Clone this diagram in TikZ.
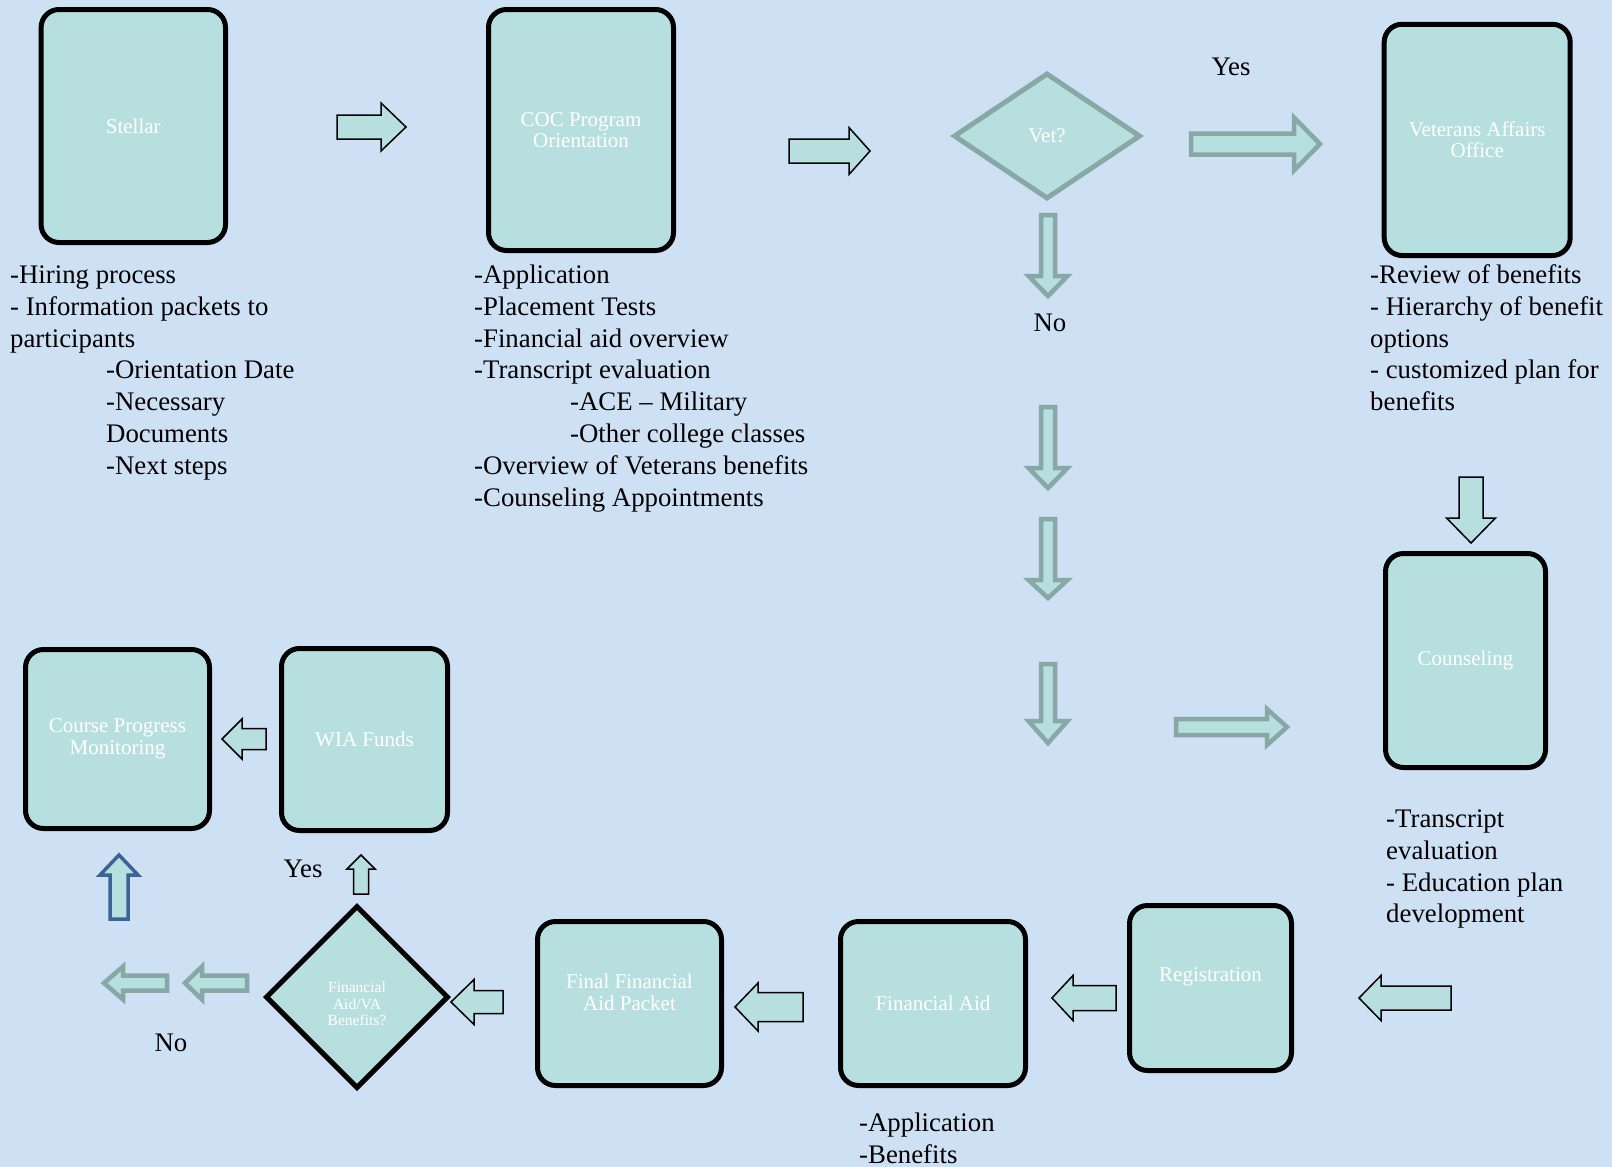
\documentclass[tikz,border=0pt]{standalone}
\usepackage{fontspec}
\setmainfont{Liberation Serif}
\usetikzlibrary{shapes.geometric}
\definecolor{bgc}{HTML}{CEE0F4}
\definecolor{boxfill}{HTML}{B8DFE0}
\definecolor{grayteal}{HTML}{88A8A5}
\definecolor{arrblue}{HTML}{3B6396}
\newcommand{\bodyfont}{\fontsize{26.8}{31.8}\selectfont}
\newcommand{\boxfont}{\fontsize{21}{21.5}\selectfont}
\newcommand{\smallboxfont}{\fontsize{15.5}{16.5}\selectfont}
\newcommand{\ind}{\hspace*{96pt}}
% block arrow: style, tail x, tail y, angle, length, head length, shaft width, head width
\newcommand{\barr}[8]{%
  \draw[#1, shift={(#2,#3)}, rotate=#4] (0,-#7/2) -- (#5-#6,-#7/2) -- (#5-#6,-#8/2) -- (#5,0)
    -- (#5-#6,#8/2) -- (#5-#6,#7/2) -- (0,#7/2) -- cycle;}
\tikzset{
  procbox/.style={draw=black, line width=5pt, fill=boxfill, rounded corners=18pt,
    inner sep=0pt, text=white, font=\boxfont, align=center},
  boxtxt/.style={inner sep=0pt, text=white, font=\boxfont, align=center},
  vetdia/.style={diamond, draw=grayteal, line width=5pt, fill=boxfill, inner sep=0pt,
    text=white, font=\boxfont, align=center},
  fadia/.style={diamond, draw=black, line width=5pt, fill=boxfill, inner sep=0pt,
    text=white, font=\smallboxfont, align=center},
  notes/.style={anchor=north west, inner sep=0pt, align=left, font=\bodyfont, text=black},
  lbl/.style={anchor=base, inner sep=0pt, font=\bodyfont, text=black},
  blkarr/.style={draw=black, line width=1.5pt, fill=boxfill, line join=miter},
  bluearr/.style={draw=arrblue, line width=3.5pt, fill=boxfill, line join=miter},
  grayarr/.style={draw=grayteal, line width=4.5pt, fill=boxfill, line join=miter}
}
\begin{document}
\begin{tikzpicture}[x=1pt, y=-1pt]
\fill[bgc] (0,0) rectangle (1612,1167);
\useasboundingbox (0,0) rectangle (1612,1167);

% process boxes
\node[procbox, minimum width=184.4pt, minimum height=233pt] (stellar) at (133.3,126) {Stellar};
\node[procbox, minimum width=185pt, minimum height=241pt] (coc) at (581,130) {COC Program\\Orientation};
\node[procbox, minimum width=186pt, minimum height=231.3pt] (va) at (1477.2,139.9) {Veterans Affairs\\Office};
\node[procbox, minimum width=160pt, minimum height=214pt] (couns) at (1465.5,660.5) {Counseling};
\node[procbox, minimum width=162pt, minimum height=165pt] (reg) at (1210.5,988) {};
\node[boxtxt] (regtxt) at ([yshift=11pt]reg.center) {Registration};
\node[procbox, minimum width=185pt, minimum height=164pt] (finaid) at (933,1003.5) {Financial Aid};
\node[procbox, minimum width=184pt, minimum height=164pt] (final) at (629.5,1003.5) {};
\node[boxtxt] (finaltxt) at ([yshift=11pt]final.center) {Final Financial\\Aid Packet};
\node[procbox, minimum width=184pt, minimum height=179pt] (cpm) at (117.5,739) {Course Progress\\Monitoring};
\node[procbox, minimum width=166pt, minimum height=182pt] (wia) at (364.5,739.5) {WIA Funds};

% decisions
\node[vetdia, minimum width=187pt, minimum height=126pt] (vet) at (1047,136) {Vet?};
\node[fadia, minimum width=183pt, minimum height=183pt] (fava) at (357,997) {};
\node[boxtxt, font=\smallboxfont] (favatxt) at ([yshift=-7pt]fava.center) {Financial\\Aid/VA\\Benefits?};

% notes
\node[notes] (stnotes) at (10,261) {\strut-Hiring process\\- Information packets to\\participants\\
  \ind-Orientation Date\\\ind-Necessary\\\ind Documents\\\ind-Next steps};
\node[notes] (cocnotes) at (474,261) {\strut-Application\\-Placement Tests\\-Financial aid overview\\
  -Transcript evaluation\\\ind-ACE – Military\\\ind-Other college classes\\
  -Overview of Veterans benefits\\-Counseling Appointments};
\node[notes] (vanotes) at (1370,261) {\strut-Review of benefits\\- Hierarchy of benefit\\options\\
  - customized plan for\\benefits};
\node[notes] (counsnotes) at (1386,805) {\strut-Transcript\\evaluation\\- Education plan\\development};
\node[notes] (fanotes) at (859,1109) {\strut-Application\\-Benefits};

% labels
\node[lbl] (yes1) at (1231,75) {Yes};
\node[lbl] (no1) at (1050,331) {No};
\node[lbl] (yes2) at (303,877) {Yes};
\node[lbl] (no2) at (171,1051) {No};

% block arrows (black outline)
\barr{blkarr}{337}{127}{0}{69}{25}{24}{48}
\barr{blkarr}{789}{151}{0}{81}{21}{24}{47}
\barr{blkarr}{1471}{477}{-90}{66}{25}{24}{49}
\barr{blkarr}{1451}{998}{180}{92}{22}{24}{45}
\barr{blkarr}{1116}{998}{180}{64}{21}{25}{45}
\barr{blkarr}{803}{1007}{180}{68}{23}{29}{48}
\barr{blkarr}{503}{1002}{180}{52}{23}{23}{45}
\barr{blkarr}{266}{739}{180}{44}{20}{21}{40}
\barr{blkarr}{361}{894}{90}{39}{14}{15}{28}
% blue outline
\barr{bluearr}{119}{919}{90}{64}{20}{18}{38}
% gray-teal outline
\barr{grayarr}{1191}{144}{0}{129}{26}{21}{53}
\barr{grayarr}{1048}{215}{-90}{81}{20}{14}{39}
\barr{grayarr}{1048}{407}{-90}{81}{20}{14}{39}
\barr{grayarr}{1048}{519}{-90}{79}{18}{14}{39}
\barr{grayarr}{1048}{664}{-90}{79}{22}{14}{39}
\barr{grayarr}{1176}{727}{0}{111}{20}{16}{36}
\barr{grayarr}{167}{983}{180}{63}{19}{15}{33}
\barr{grayarr}{247}{983}{180}{62}{17}{15}{33}
\end{tikzpicture}
\end{document}
